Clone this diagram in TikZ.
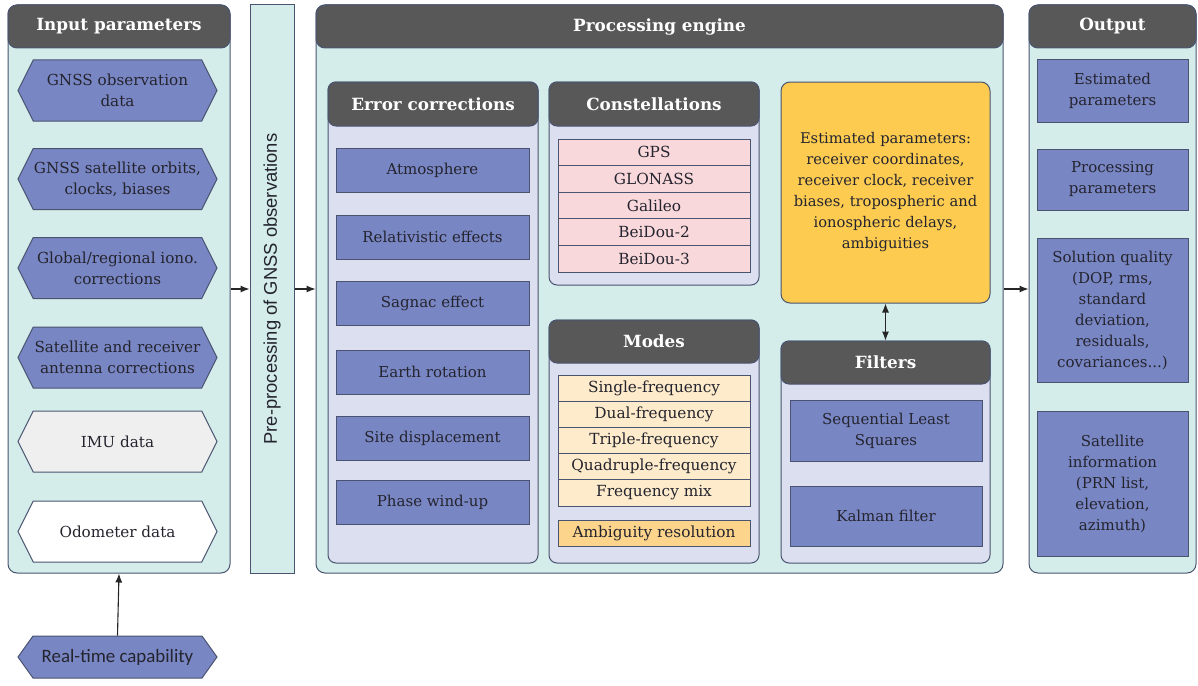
\documentclass[tikz,border=0pt]{standalone}
\usepackage{fontspec}
\setmainfont{DejaVu Serif}
\newfontfamily\arialf{Liberation Sans}
\newfontfamily\calf{Carlito}
\usetikzlibrary{shapes.symbols,arrows.meta}
\definecolor{panelfill}{HTML}{D4EDEA}
\definecolor{bordc}{HTML}{4A5470}
\definecolor{hdr}{HTML}{585858}
\definecolor{subfill}{HTML}{DCDFF0}
\definecolor{bluebox}{HTML}{7986C4}
\definecolor{pinkrow}{HTML}{F9D8DC}
\definecolor{creamrow}{HTML}{FDEBCB}
\definecolor{ambig}{HTML}{FCD48C}
\definecolor{yell}{HTML}{FCCB50}
\definecolor{imu}{HTML}{EFEFEF}
\definecolor{txt}{HTML}{24242E}
\tikzset{
  panel/.style={draw=bordc, fill=panelfill, rounded corners=9pt, line width=1pt, inner sep=0pt},
  header/.style={draw=bordc, fill=hdr, rounded corners=9pt, line width=1pt, inner sep=0pt, text=white,
    font=\fontsize{16.8}{20}\selectfont\bfseries},
  subpanel/.style={draw=bordc, fill=subfill, rounded corners=8pt, line width=1pt, inner sep=0pt},
  bbox/.style={draw=bordc, fill=bluebox, line width=1pt, inner sep=0pt, text=txt, align=center,
    font=\fontsize{15}{21}\selectfont},
  row/.style={draw=bordc, line width=1pt, inner sep=0pt, text=txt, minimum width=192pt,
    font=\fontsize{15.3}{17}\selectfont},
  hexa/.style={signal, signal to=west and east, signal pointer angle=127, draw=bordc, fill=bluebox,
    line width=1pt, inner sep=0pt, minimum width=199pt, minimum height=61pt, text=txt, align=center,
    font=\fontsize{15.2}{21}\selectfont},
  arr/.style={draw=black!85, line width=1.1pt, -{Latex[length=9pt,width=7pt]}},
}
\begin{document}
\begin{tikzpicture}[x=1pt,y=-1pt]
\useasboundingbox (0,0) rectangle (1198,685);
% Input panel
\node[panel, minimum width=222pt, minimum height=568pt] (inp) at (119,289) {};
\node[header, minimum width=222pt, minimum height=43pt] (inph) at (119,26.5) {Input parameters};
\node[hexa] (h1) at (117.5,90.5) {GNSS observation\\data};
\node[hexa] (h2) at (117.5,179) {GNSS satellite orbits,\\clocks, biases};
\node[hexa] (h3) at (117.5,268) {Global/regional iono.\\corrections};
\node[hexa] (h4) at (117.5,357.5) {Satellite and receiver\\antenna corrections};
\node[hexa, fill=imu] (h5) at (117.5,441.5) {IMU data};
\node[hexa, fill=white] (h6) at (117.5,531.5) {Odometer data};
\node[hexa, minimum height=42pt, signal pointer angle=109, font=\calf\fontsize{18.9}{22}\selectfont] (rt) at (117.5,657) {Real-time capability};
% Pre-processing bar
\node[draw=bordc, fill=panelfill, line width=1pt, minimum width=44pt, minimum height=568pt, inner sep=0pt] (pre) at (272,289) {};
\node[rotate=90, text=txt, font=\arialf\fontsize{18.4}{21}\selectfont] (pret) at (pre.center) {Pre-processing of GNSS observations};
% Processing engine
\node[panel, minimum width=687pt, minimum height=568pt] (proc) at (659.5,289) {};
\node[header, minimum width=687pt, minimum height=43pt] (proch) at (659.5,26.5) {Processing engine};
% Error corrections
\node[subpanel, minimum width=210pt, minimum height=481pt] (err) at (433,322.5) {};
\node[header, minimum width=210pt, minimum height=44pt, rounded corners=8pt] (errh) at (433,104) {Error corrections};
\foreach \n/\y/\t in {e1/170/Atmosphere, e2/237/Relativistic effects, e3/303/Sagnac effect, e4/372/Earth rotation, e5/438/Site displacement, e6/502/Phase wind-up}
  \node[bbox, minimum width=193pt, minimum height=44pt] (\n) at (432.5,\y) {\t};
% Constellations
\node[subpanel, minimum width=210pt, minimum height=203pt] (con) at (654,183.5) {};
\node[header, minimum width=210pt, minimum height=44pt, rounded corners=8pt] (conh) at (654,104) {Constellations};
\foreach \n/\y/\t in {c1/152.3/GPS, c2/178.9/GLONASS, c3/205.5/Galileo, c4/232.1/BeiDou-2, c5/258.7/BeiDou-3}
  \node[row, fill=pinkrow, minimum height=26.6pt] (\n) at (654,\y) {\t};
% Modes
\node[subpanel, minimum width=210pt, minimum height=243pt] (mod) at (654,441.5) {};
\node[header, minimum width=210pt, minimum height=43pt, rounded corners=8pt] (modh) at (654,341.5) {Modes};
\foreach \n/\y/\t in {m1/388.1/Single-frequency, m2/414.3/Dual-frequency, m3/440.5/Triple-frequency, m4/466.7/Quadruple-frequency, m5/492.9/Frequency mix}
  \node[row, fill=creamrow, minimum height=26.2pt] (\n) at (654,\y) {\t};
\node[row, fill=ambig, minimum height=26pt] (amb) at (654,533) {Ambiguity resolution};
% Estimated parameters
\node[draw=bordc, fill=yell, rounded corners=9pt, line width=1pt, inner sep=0pt, minimum width=209pt, minimum height=221pt,
  text=txt, align=center, font=\fontsize{14.7}{21}\selectfont] (est) at (885.5,192.5)
  {Estimated parameters:\\receiver coordinates,\\receiver clock, receiver\\biases, tropospheric and\\ionospheric delays,\\ambiguities};
% Filters
\node[subpanel, minimum width=209pt, minimum height=222pt] (fil) at (885.5,452) {};
\node[header, minimum width=209pt, minimum height=43pt, rounded corners=8pt] (filh) at (885.5,362.5) {Filters};
\node[bbox, minimum width=192pt, minimum height=61pt] (sls) at (886,430.5) {Sequential Least\\Squares};
\node[bbox, minimum width=192pt, minimum height=60pt] (kal) at (886,516) {Kalman filter};
% Output
\node[panel, minimum width=167pt, minimum height=568pt] (out) at (1112.5,289) {};
\node[header, minimum width=167pt, minimum height=43pt] (outh) at (1112.5,26.5) {Output};
\node[bbox, minimum width=151pt, minimum height=62pt] (o1) at (1112.5,91) {Estimated\\parameters};
\node[bbox, minimum width=151pt, minimum height=61pt] (o2) at (1112.5,179.5) {Processing\\parameters};
\node[bbox, minimum width=151pt, minimum height=144pt] (o3) at (1112.5,310) {Solution quality\\(DOP, rms,\\standard\\deviation,\\residuals,\\covariances...)};
\node[bbox, minimum width=151pt, minimum height=145pt] (o4) at (1112.5,483.5) {Satellite\\information\\(PRN list,\\elevation,\\azimuth)};
% Connectors
\draw[arr] (inp.east) -- (pre.west);
\draw[arr] (pre.east) -- (proc.west);
\draw[arr] (proc.east) -- (out.west);
\draw[arr] (rt.north) -- (inp.south);
\draw[draw=black!85, line width=1.1pt, {Latex[length=9pt,width=7pt]}-{Latex[length=9pt,width=7pt]}] (est.south) -- (fil.north);
\end{tikzpicture}
\end{document}
